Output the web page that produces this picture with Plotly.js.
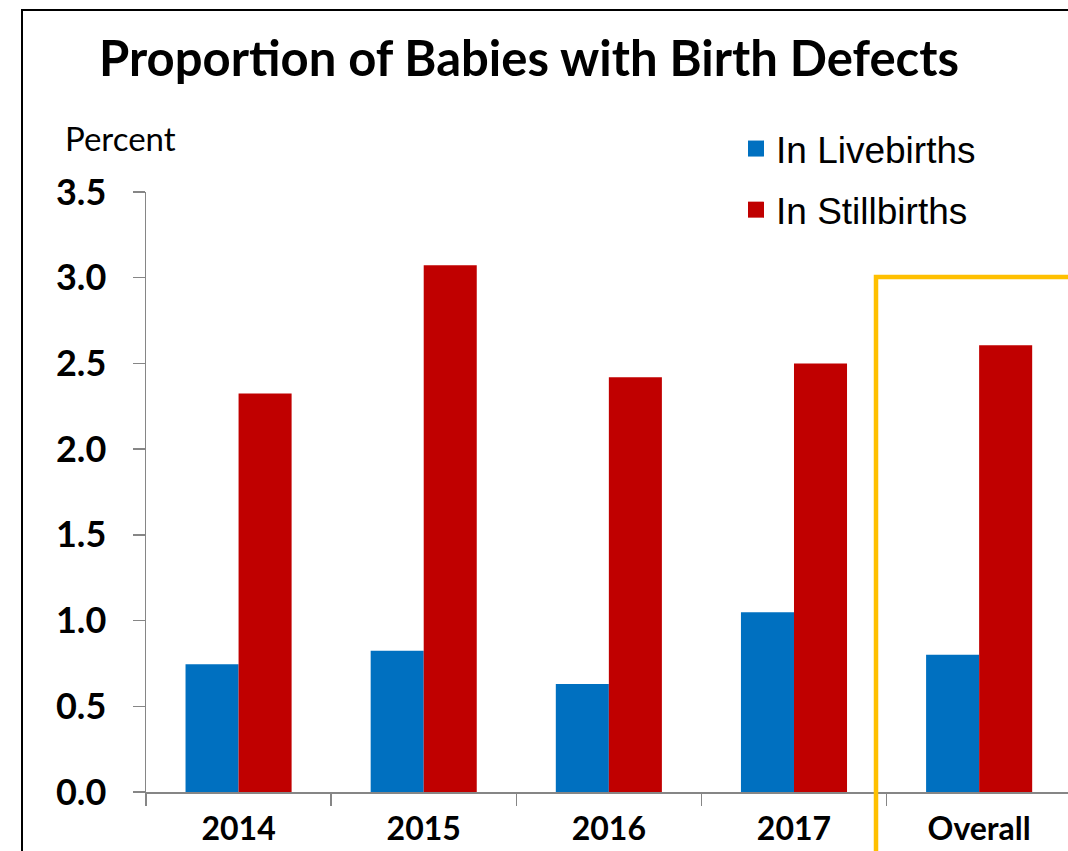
<!DOCTYPE html>
<html>
<head>
<meta charset="utf-8">
<script src="https://cdn.plot.ly/plotly-3.0.1.min.js"></script>
<style>html,body{margin:0;padding:0;background:#fff;}#chart{width:1068px;height:851px;}</style>
</head>
<body>
<div id="chart"></div>
<script>
const categories = ["2014", "2015", "2016", "2017", "Overall"];
const livebirths = [0.745, 0.824, 0.63, 1.048, 0.80];
const stillbirths = [2.325, 3.073, 2.42, 2.50, 2.606];
const seriesNames = ["In Livebirths", "In Stillbirths"];
const yTickVals = [0, 0.5, 1.0, 1.5, 2.0, 2.5, 3.0, 3.5];
const yTickText = ["0.0", "0.5", "1.0", "1.5", "2.0", "2.5", "3.0", "3.5"];

const W = 1068, H = 851;
const mL = 146, mR = 0, mT = 192, mB = 59;
const pw = W - mL - mR, ph = H - mT - mB;
const px = x => (x - mL) / pw;          // pixel -> paper x
const py = y => (H - mB - y) / ph;      // pixel -> paper y

const blue = "#0070C0", red = "#C00000";

const traces = [
  {type: "bar", x: categories, y: livebirths, name: seriesNames[0], marker: {color: blue}, showlegend: false, hoverinfo: "y"},
  {type: "bar", x: categories, y: stillbirths, name: seriesNames[1], marker: {color: red}, showlegend: false, hoverinfo: "y"},
  {type: "scatter", mode: "markers", x: [null], y: [null], name: seriesNames[0], legendgroup: "a",
   marker: {symbol: "square", size: 16, color: blue}},
  {type: "scatter", mode: "markers", x: [null], y: [null], name: seriesNames[1], legendgroup: "b",
   marker: {symbol: "square", size: 16, color: red}}
];

const bold = {family: "Lato, 'Open Sans', sans-serif", weight: 700, color: "#000"};

const layout = {
  width: W, height: H,
  margin: {l: mL, r: mR, t: mT, b: mB},
  paper_bgcolor: "#fff", plot_bgcolor: "#fff",
  barmode: "group", bargap: 0.427, bargroupgap: 0,
  title: {text: "<b>Proportion of Babies with Birth Defects</b>",
          font: {family: "Lato, 'Open Sans', sans-serif", size: 49, color: "#000"},
          x: 529 / W, xanchor: "center", y: 1 - 59 / H, yanchor: "middle"},
  xaxis: {type: "category", range: [-0.5, 4.48], showline: true, linecolor: "#868686", linewidth: 1.5,
          ticks: "outside", tickson: "boundaries", ticklen: 12, tickcolor: "#868686", tickwidth: 1.5,
          tickfont: Object.assign({size: 32}, bold), ticklabelstandoff: 8,
          showgrid: false, zeroline: false, fixedrange: true},
  yaxis: {range: [0, 3.5], tickvals: yTickVals, ticktext: yTickText, showline: true, linecolor: "#868686",
          linewidth: 1.5, ticks: "outside", ticklen: 12, tickcolor: "#868686", tickwidth: 1.5,
          tickfont: Object.assign({size: 36}, bold), ticklabelstandoff: 19,
          showgrid: false, zeroline: false, fixedrange: true},
  legend: {x: px(736), xanchor: "left", y: py(118), yanchor: "top", bgcolor: "rgba(0,0,0,0)",
           font: {family: "'Liberation Sans', Arial, sans-serif", size: 37, color: "#000"},
           traceorder: "grouped", tracegroupgap: 10},
  annotations: [
    {text: "Percent", xref: "paper", yref: "paper", x: px(63), y: py(138), xanchor: "left", yanchor: "middle",
     showarrow: false, font: {family: "Lato, 'Open Sans', sans-serif", size: 33, color: "#000"}}
  ],
  shapes: [
    {type: "path", xref: "paper", yref: "paper", path: `M ${px(22)} ${py(860)} L ${px(22)} ${py(10)} L ${px(1080)} ${py(10)}`,
     line: {color: "#000", width: 2}},
    {type: "path", xref: "paper", yref: "paper", path: `M ${px(876)} ${py(860)} L ${px(876)} ${py(277)} L ${px(1080)} ${py(277)}`,
     line: {color: "#FFC000", width: 4.5}}
  ]
};

Plotly.newPlot("chart", traces, layout, {displayModeBar: false, staticPlot: true});
</script>
</body>
</html>
